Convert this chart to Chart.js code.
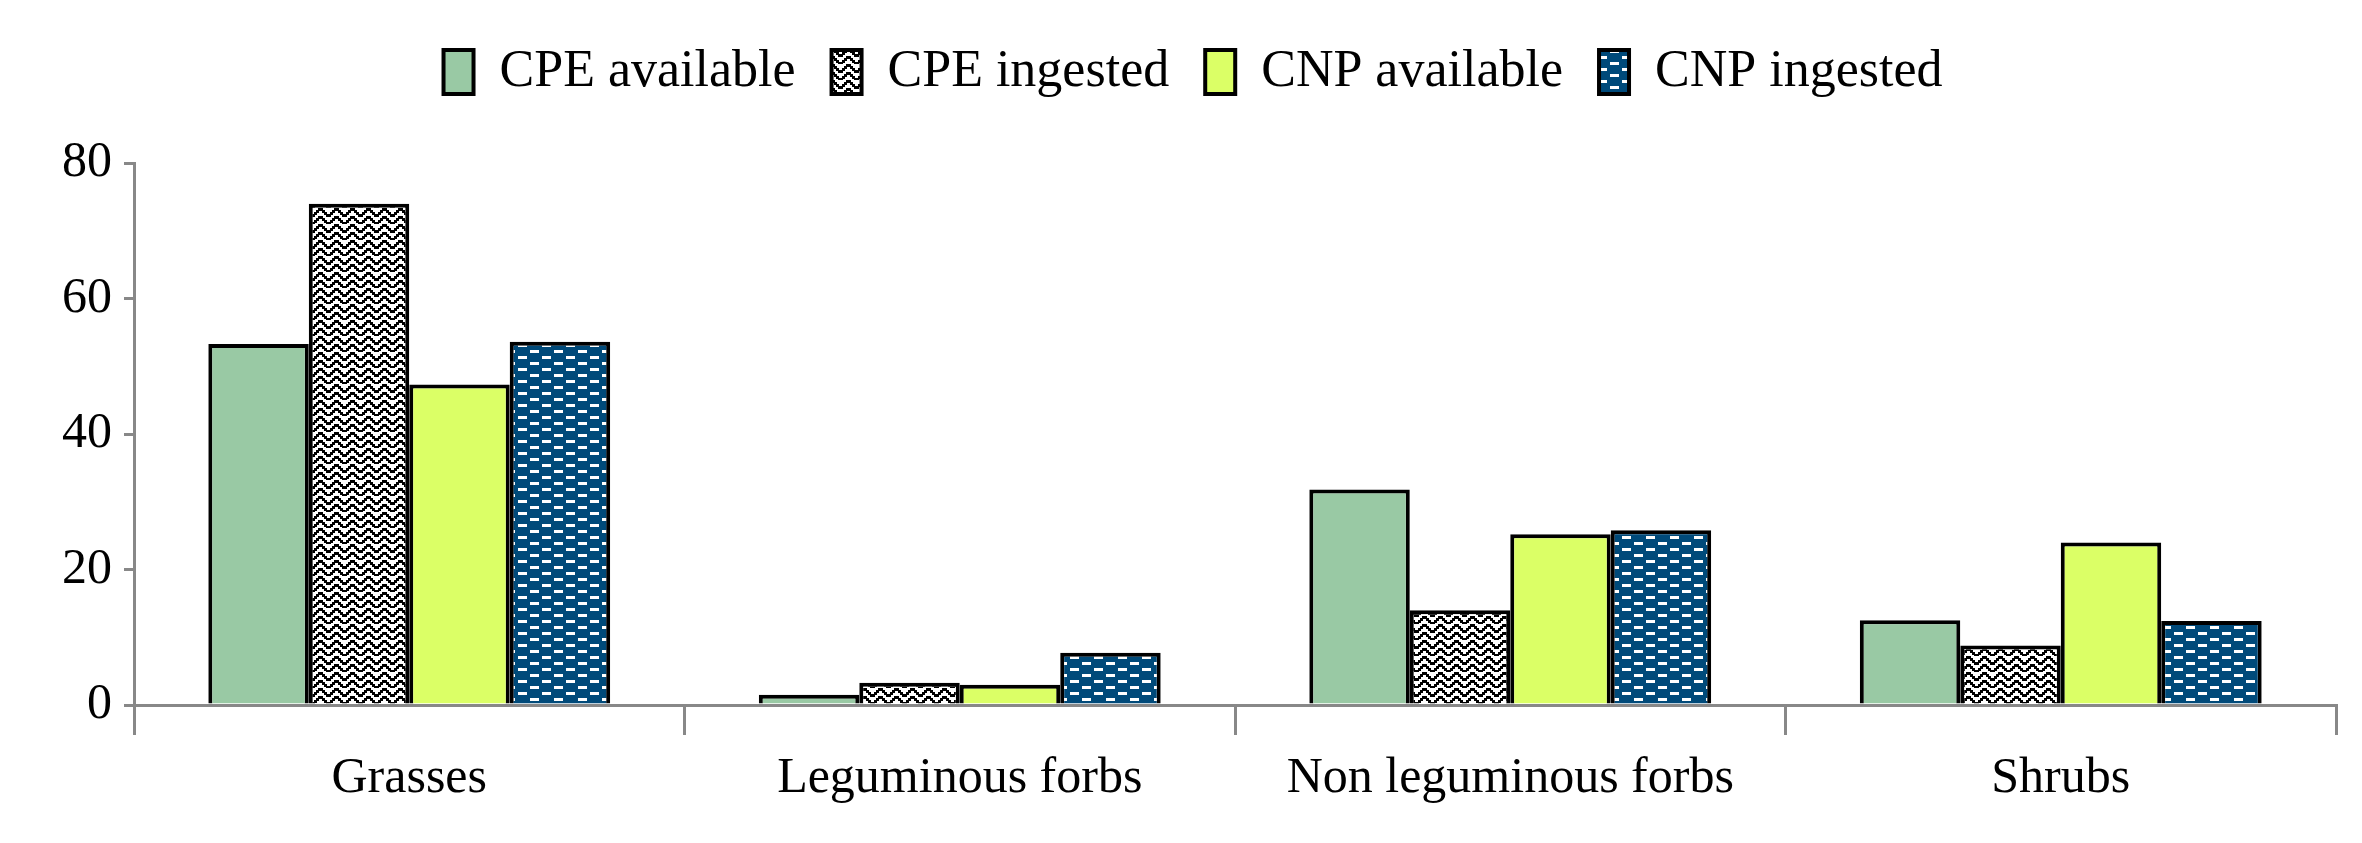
<!DOCTYPE html>
<html><head><script src="https://cdn.jsdelivr.net/npm/chart.js"></script>
<style>body{margin:0;background:#fff}#w{width:2362px;height:843px}</style></head>
<body><div id="w"><canvas id="c"></canvas></div>
<script>
const categories=["Grasses","Leguminous forbs","Non leguminous forbs","Shrubs"];
const cpeAvailable=[53.3,1.5,31.8,12.5];
const cpeIngested=[74.0,3.3,14.0,8.8];
const cnpAvailable=[47.3,3.0,25.2,24.0];
const cnpIngested=[53.6,7.7,25.8,12.4];
const seriesNames=["CPE available","CPE ingested","CNP available","CNP ingested"];
function zig(){const c=document.createElement('canvas');c.width=16;c.height=16;const g=c.getContext('2d');g.fillStyle='#fff';g.fillRect(0,0,16,16);g.fillStyle='#000';
for(let y=0;y<16;y+=8){for(let i=0;i<4;i++){g.fillRect(i*2,y+i*2,3,3);g.fillRect(8+(3-i)*2,y+i*2,3,3);}}
return g.createPattern(c,'repeat');}
function dash(){const c=document.createElement('canvas');c.width=24;c.height=12;const g=c.getContext('2d');g.fillStyle='#004a7a';g.fillRect(0,0,24,12);g.fillStyle='#fff';g.fillRect(2,2,9,3);g.fillRect(14,8,9,3);return g.createPattern(c,'repeat');}
const fills=['#99c9a4',zig(),'#dbff66',dash()];
const data=[cpeAvailable,cpeIngested,cnpAvailable,cnpIngested];
const F="'Liberation Serif','DejaVu Serif',serif";
const legendGap={id:'lg',beforeInit(ch){const o=ch.legend.fit;ch.legend.fit=function(){o.bind(ch.legend)();this.height+=55;};}};
new Chart(document.getElementById('c'),{type:'bar',plugins:[legendGap],
data:{labels:categories,datasets:data.map((d,i)=>({label:seriesNames[i],data:d,backgroundColor:fills[i],borderColor:'#000',borderWidth:4,categoryPercentage:0.73,barPercentage:1}))},
options:{responsive:true,maintainAspectRatio:false,animation:false,
layout:{padding:{left:50,right:26,top:10,bottom:20}},
plugins:{tooltip:{enabled:false},legend:{position:'top',labels:{color:'#000',font:{family:F,size:52},boxWidth:30,boxHeight:44,padding:36}}},
scales:{x:{grid:{display:true,offset:true,drawOnChartArea:false,color:'#888',lineWidth:3,tickLength:30},border:{color:'#888',width:3},ticks:{color:'#000',font:{family:F,size:50},padding:14}},
y:{min:0,max:80,ticks:{stepSize:20,color:'#000',font:{family:F,size:50},padding:12},grid:{drawOnChartArea:false,color:'#888',lineWidth:3,tickLength:10},border:{color:'#888',width:3}}}}});
</script></body></html>
